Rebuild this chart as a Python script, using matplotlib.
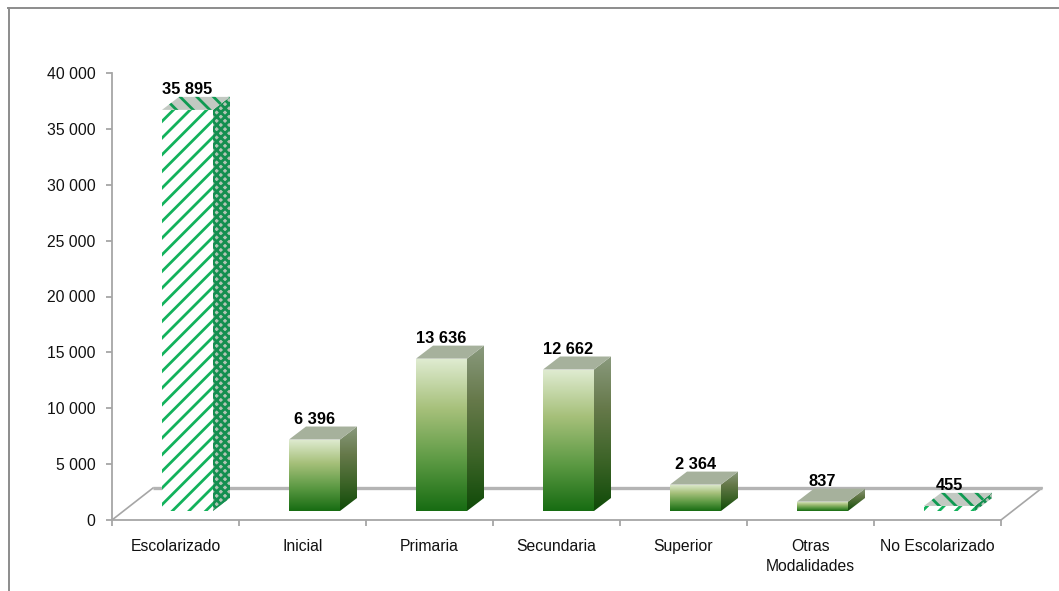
import matplotlib
matplotlib.use('Agg')
import matplotlib.pyplot as plt
from matplotlib.colors import LinearSegmentedColormap
from matplotlib.lines import Line2D
from matplotlib.patches import Polygon
from numpy import linspace

categories = ['Escolarizado', 'Inicial', 'Primaria', 'Secundaria', 'Superior',
              'Otras\nModalidades', 'No Escolarizado']
values = [35895, 6396, 13636, 12662, 2364, 837, 455]
value_labels = ['35 895', '6 396', '13 636', '12 662', '2 364', '837', '455']
striped = [True, False, False, False, False, False, True]
y_ticks = [0, 5000, 10000, 15000, 20000, 25000, 30000, 35000, 40000]
y_labels = ['0', '5 000', '10 000', '15 000', '20 000', '25 000', '30 000', '35 000', '40 000']

W, H = 1059, 591
GREY = '#a6a6a6'
STRIPE = '#12b25c'

plt.rcParams['font.family'] = ['Liberation Sans']
plt.rcParams['hatch.linewidth'] = 2.0

face_cmap = LinearSegmentedColormap.from_list('face', ['#176c12', '#5d9a44', '#a6c07a', '#e0ecd2'])
side_cmap = LinearSegmentedColormap.from_list('side', ['#0f4a08', '#3d6428', '#66794a', '#8a9a7e'])

fig = plt.figure(figsize=(W / 100, H / 100), dpi=100)
ax = fig.add_axes([112 / W, (H - 520) / H, 889 / W, 447 / H])
ax.set_xlim(0, 7)
ax.set_ylim(0, 40000)

# size of one pixel in data units, the 3d look is built from these
px = 7 / 889
py = 40000 / 447


def poly(points, **kw):
    p = Polygon(points, closed=True, clip_on=False, **kw)
    ax.add_patch(p)
    return p


def gradient(points, cmap, y0, y1, z):
    # vertical gradient clipped to the polygon
    clip = poly(points, facecolor='none', edgecolor='none', zorder=z)
    xs = [q[0] for q in points]
    im = ax.imshow(linspace(1, 0, 256).reshape(-1, 1), cmap=cmap, aspect='auto', vmin=0, vmax=1,
                   extent=(min(xs), max(xs), y0, y1), zorder=z, clip_on=True)
    im.set_clip_path(clip)


# floor
depth_x, depth_y = 41 * px, 32 * py
ax.plot([0, depth_x], [0, depth_y], color=GREY, lw=1.2, clip_on=False, zorder=1)
ax.plot([7, 7 + depth_x], [0, depth_y], color=GREY, lw=1.2, clip_on=False, zorder=1)
ax.plot([depth_x, 7 + depth_x], [depth_y, depth_y], color='#b4b4b4', lw=2.4, clip_on=False,
        zorder=1, solid_capstyle='butt')

# bars
bar_w = 51 * px
dx, dy = 17 * px, 13 * py
base = 9 * py
for i, v in enumerate(values):
    x0 = i + 0.5 + 12 * px - bar_w / 2
    x1 = x0 + bar_w
    front = [(x0, base), (x1, base), (x1, v + base), (x0, v + base)]
    side = [(x1, base), (x1 + dx, base + dy), (x1 + dx, v + base + dy), (x1, v + base)]
    top = [(x0, v + base), (x1, v + base), (x1 + dx, v + base + dy), (x0 + dx, v + base + dy)]
    if striped[i]:
        poly(front, facecolor='white', edgecolor=STRIPE, hatch='//', lw=0, zorder=3)
        poly(side, facecolor='#b3c4b6', edgecolor='#148f50', hatch='xxxx', lw=0, zorder=3)
        poly(top, facecolor='#c2c9c2', edgecolor='#0f9a52', hatch='\\\\', lw=0, zorder=3)
    else:
        gradient(front, face_cmap, base, v + base, 3)
        gradient(side, side_cmap, base, v + base + dy, 3)
        poly(top, facecolor='#a6b19c', edgecolor='none', zorder=3)
    ax.text((x0 + x1) / 2, v + base + dy, value_labels[i], ha='center', va='bottom', fontsize=11.8,
            fontweight='bold', color='black', zorder=5)

ax.set_xlim(0, 7)
ax.set_ylim(0, 40000)

# axes
for s in ['top', 'right']:
    ax.spines[s].set_visible(False)
for s in ['left', 'bottom']:
    ax.spines[s].set_color(GREY)
    ax.spines[s].set_linewidth(1.3)
    ax.spines[s].set_zorder(2)
ax.patch.set_alpha(0)
ax.set_yticks(y_ticks)
ax.set_yticklabels(y_labels, fontsize=11.3, color='#111111')
ax.tick_params(axis='y', length=4, width=1.3, color=GREY, pad=8)
ax.set_xticks(range(8))
ax.set_xticklabels([])
ax.tick_params(axis='x', length=4, width=1.3, color=GREY)
ax.set_xticks([i + 0.5 for i in range(7)], minor=True)
ax.set_xticklabels(categories, minor=True, fontsize=11.3, color='#111111', linespacing=1.4)
ax.tick_params(axis='x', which='minor', length=0, pad=14)

# outer frame, only left and top are visible in the crop
fig.add_artist(Line2D([8.5 / W, 8.5 / W], [0, (H - 7.5) / H], color='#8c8c8c', lw=1.4))
fig.add_artist(Line2D([8 / W, 1], [(H - 7.5) / H, (H - 7.5) / H], color='#8c8c8c', lw=1.4))

fig.savefig('out.png', dpi=100)
